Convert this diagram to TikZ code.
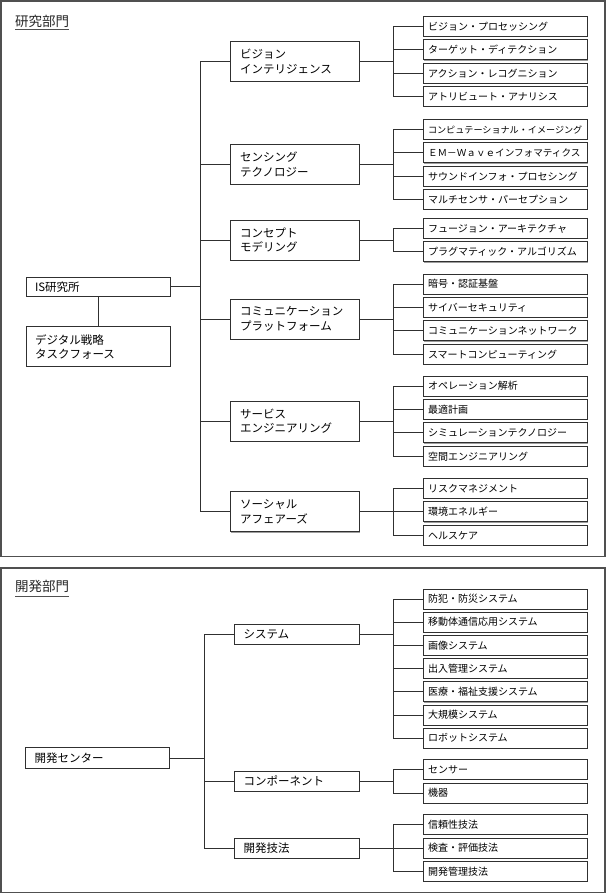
\documentclass[tikz,border=0pt]{standalone}
\usepackage{fontspec}
\setmainfont{Noto Sans CJK JP}
\usetikzlibrary{shadows}
\definecolor{lc}{HTML}{303030}
\definecolor{fc}{HTML}{505050}
\begin{document}
\begin{tikzpicture}[x=1pt,y=-1pt,
  box/.style={draw=lc, line width=0.9pt, fill=white, inner ysep=0pt, align=left,
    drop shadow={shadow xshift=0.7pt, shadow yshift=-0.7pt, opacity=0.55, fill=black!70}},
  leaf/.style={box, minimum width=163.5pt, minimum height=20pt, text width=154.5pt,
    inner xsep=4.5pt, font=\fontsize{10}{11}\selectfont},
  mid/.style={box, minimum width=128.3pt, minimum height=40pt, text width=109.3pt,
    inner xsep=9.5pt, font=\fontsize{11.5}{14.5}\selectfont},
  midb/.style={box, minimum width=125.3pt, minimum height=20pt, text width=106.3pt,
    inner xsep=9.5pt, font=\fontsize{11.5}{14.5}\selectfont},
  lbox/.style={box, minimum width=144pt, text width=126pt, inner xsep=9pt,
    font=\fontsize{11.5}{14}\selectfont},
  conn/.style={draw=lc, line width=0.9pt},
  frame/.style={draw=fc, line width=1.3pt},
  heading/.style={inner sep=0pt, font=\fontsize{13.5}{15}\selectfont, text=black!85},
  uline/.style={draw=fc, line width=1pt}
]
\useasboundingbox (0,0) rectangle (606,894);

% frames
\draw[frame] (1,1) rectangle (605,556.5);
\draw[frame] (1,568) rectangle (605,892.5);

% headings
\node[heading, anchor=base west] (h1) at (15,26.5) {研究部門};
\draw[uline] ([yshift=-3pt]h1.base west) -- ([yshift=-3pt]h1.base east);
\node[heading, anchor=base west] (h2) at (15,591.5) {開発部門};
\draw[uline] ([yshift=-4.5pt]h2.base west) -- ([yshift=-4.5pt]h2.base east);

% spine coordinates
\coordinate (sp1) at (200.5,0);
\coordinate (lv) at (393,0);
\coordinate (sp2) at (204,0);

% ===== top section =====
\node[lbox, minimum height=19pt] (is) at (98,286.7) {IS研究所};
\node[lbox, minimum height=40pt] (dg) at (98,346.7) {デジタル戦略\\タスクフォース};

\node[mid] (m1) at (294.85,61.6) {ビジョン\\インテリジェンス};
\node[mid] (m2) at (294.85,164.6) {センシング\\テクノロジー};
\node[mid] (m3) at (294.85,240.2) {コンセプト\\モデリング};
\node[mid] (m4) at (294.85,319.1) {コミュニケーション\\プラットフォーム};
\node[mid] (m5) at (294.85,421.1) {サービス\\エンジニアリング};
\node[mid] (m6) at (294.85,511.9) {ソーシャル\\アフェアーズ};

\node[leaf] (a1) at (505.25,26.5) {ビジョン・プロセッシング};
\node[leaf] (a2) at (505.25,49.9) {ターゲット・ディテクション};
\node[leaf] (a3) at (505.25,73.3) {アクション・レコグニション};
\node[leaf] (a4) at (505.25,96.7) {アトリビュート・アナリシス};

\node[leaf] (b1) at (505.25,129.5) {\fontsize{9.1}{11}\selectfont コンピュテーショナル・イメージング};
\node[leaf] (b2) at (505.25,152.9) {\fontsize{9.6}{11}\selectfont ＥＭ－Ｗａｖｅインフォマティクス};
\node[leaf] (b3) at (505.25,176.3) {サウンドインフォ・プロセシング};
\node[leaf] (b4) at (505.25,199.7) {マルチセンサ・パーセプション};

\node[leaf] (c1) at (505.25,228.5) {フュージョン・アーキテクチャ};
\node[leaf] (c2) at (505.25,251.9) {プラグマティック・アルゴリズム};

\node[leaf] (d1) at (505.25,284) {暗号・認証基盤};
\node[leaf] (d2) at (505.25,307.4) {サイバーセキュリティ};
\node[leaf] (d3) at (505.25,330.8) {コミュニケーションネットワーク};
\node[leaf] (d4) at (505.25,354.2) {スマートコンピューティング};

\node[leaf] (e1) at (505.25,386) {オペレーション解析};
\node[leaf] (e2) at (505.25,409.4) {最適計画};
\node[leaf] (e3) at (505.25,432.8) {シミュレーションテクノロジー};
\node[leaf] (e4) at (505.25,456.2) {空間エンジニアリング};

\node[leaf] (f1) at (505.25,488.5) {リスクマネジメント};
\node[leaf] (f2) at (505.25,511.9) {環境エネルギー};
\node[leaf] (f3) at (505.25,535.3) {ヘルスケア};

% top connectors
\draw[conn] (is.south) -- (dg.north);
\draw[conn] (is.east) -- (is.east -| sp1);
\draw[conn] (m1.west) -| (m6.west -| sp1) -- (m6.west);
\foreach \m in {m2,m3,m4,m5} \draw[conn] (\m.west) -- (\m.west -| sp1);

\foreach \m/\f/\l in {m1/a1/a4, m2/b1/b4, m3/c1/c2, m4/d1/d4, m5/e1/e4, m6/f1/f3} {
  \draw[conn] (\m.east) -- (\m.east -| lv);
  \draw[conn] (\f.west) -| (\l.west -| lv) -- (\l.west);
}
\foreach \n in {a2,a3,b2,b3,d2,d3,e2,e3,f2} \draw[conn] (\n.west) -- (\n.west -| lv);

% ===== bottom section =====
\node[lbox, minimum width=144pt, minimum height=20.5pt] (kc) at (97.5,758) {開発センター};

\node[midb] (n1) at (296.65,634) {システム};
\node[midb] (n2) at (296.65,781.3) {コンポーネント};
\node[midb] (n3) at (296.65,848) {開発技法};

\node[leaf] (p1) at (505.25,599) {防犯・防災システム};
\node[leaf] (p2) at (505.25,622.2) {移動体通信応用システム};
\node[leaf] (p3) at (505.25,645.4) {画像システム};
\node[leaf] (p4) at (505.25,668.6) {出入管理システム};
\node[leaf] (p5) at (505.25,691.8) {医療・福祉支援システム};
\node[leaf] (p6) at (505.25,715) {大規模システム};
\node[leaf] (p7) at (505.25,738.2) {ロボットシステム};

\node[leaf] (q1) at (505.25,769.5) {センサー};
\node[leaf] (q2) at (505.25,793) {機器};

\node[leaf] (r1) at (505.25,824.5) {信頼性技法};
\node[leaf] (r2) at (505.25,848) {検査・評価技法};
\node[leaf] (r3) at (505.25,871.5) {開発管理技法};

% bottom connectors
\draw[conn] (kc.east) -- (kc.east -| sp2);
\draw[conn] (n1.west) -| (n3.west -| sp2) -- (n3.west);
\draw[conn] (n2.west) -- (n2.west -| sp2);

\foreach \m/\f/\l in {n1/p1/p7, n2/q1/q2, n3/r1/r3} {
  \draw[conn] (\m.east) -- (\m.east -| lv);
  \draw[conn] (\f.west) -| (\l.west -| lv) -- (\l.west);
}
\foreach \n in {p2,p3,p4,p5,p6,r2} \draw[conn] (\n.west) -- (\n.west -| lv);
\end{tikzpicture}
\end{document}
